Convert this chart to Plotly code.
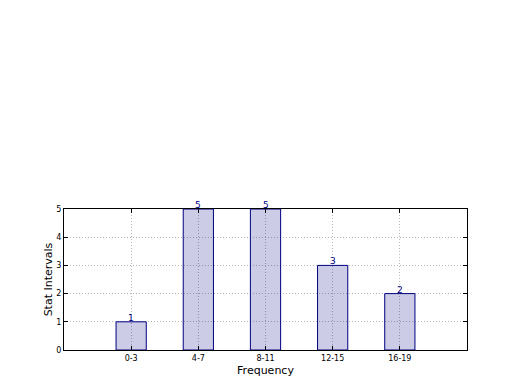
import plotly.graph_objects as go

categories = ["0-3", "4-7", "8-11", "12-15", "16-19"]
values = [1, 5, 5, 3, 2]
positions = [0, 1, 2, 3, 4]

fig = go.Figure()
fig.add_trace(go.Bar(
    x=positions, y=values, width=0.45,
    marker=dict(color="rgba(0,0,128,0.2)", line=dict(color="#000080", width=1)),
    showlegend=False, hoverinfo="skip",
))
for p, v in zip(positions, values):
    fig.add_annotation(x=p, y=v, text=str(v), showarrow=False, yanchor="bottom",
                       yshift=-3, font=dict(family="DejaVu Sans", size=9, color="#000080"))
fig.update_layout(
    width=520, height=390,
    margin=dict(l=64, r=53, t=209, b=40),
    plot_bgcolor="white", paper_bgcolor="white",
    font=dict(family="DejaVu Sans", color="black"),
)
axis_common = dict(
    showline=True, linecolor="black", linewidth=1, mirror="allticks",
    ticks="inside", ticklen=4, tickcolor="black",
    showgrid=True, gridcolor="#b8b8b8", griddash="1px,2px", gridwidth=1,
    zeroline=False, tickfont=dict(size=8, family="DejaVu Sans"),
)
fig.update_xaxes(range=[-1, 5], tickvals=positions, ticktext=categories,
                 title=dict(text="Frequency", font=dict(size=11), standoff=4), **axis_common)
fig.update_yaxes(range=[0, 5], dtick=1,
                 title=dict(text="Stat Intervals", font=dict(size=11), standoff=1), **axis_common)
fig.write_html("out.html")
